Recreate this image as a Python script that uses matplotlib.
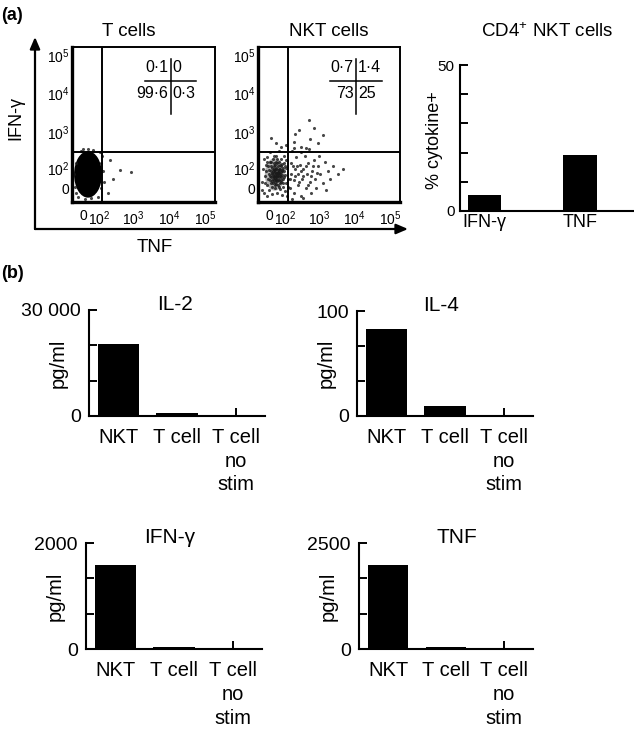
import numpy as np
import matplotlib.pyplot as plt
from matplotlib.patches import Ellipse

plt.rcParams['font.family'] = ['Liberation Sans', 'DejaVu Sans']
plt.rcParams['mathtext.fontset'] = 'custom'
plt.rcParams['mathtext.rm'] = 'Liberation Sans'
plt.rcParams['mathtext.it'] = 'Liberation Sans:italic'
plt.rcParams['mathtext.bf'] = 'Liberation Sans:bold'

W, H = 634, 736

# (a) flow plots, events in display channels (0-1000)
flow_tick_labels = ['0', r'$10^{2}$', r'$10^{3}$', r'$10^{4}$', r'$10^{5}$']
flow_ticks_x = [80, 190, 430, 680, 930]
flow_ticks_y = [90, 220, 450, 700, 950]
gate_x = 210
gate_y = 320

tcell_quadrants = [0.1, 0, 99.6, 0.3]
nkt_quadrants = [0.7, 1.4, 73, 25]

# dense populations: centre x, centre y, width, height
tcell_core = (112, 178, 195, 300)
nkt_core = (118, 178, 140, 210)

tcell_events = [
    (20, 100), (30, 250), (200, 90), (215, 200), (60, 330), (150, 335),
    (210, 300), (40, 30), (180, 30), (225, 130), (110, 340), (15, 180),
    (25, 60), (205, 250), (90, 20), (130, 25), (195, 320), (75, 345),
    (266, 271), (336, 206), (413, 194), (290, 150), (250, 60),
]

nkt_events = [
    (45, 60), (60, 110), (52, 170), (70, 230), (65, 290), (80, 80), (85, 140),
    (90, 200), (95, 260), (88, 320), (100, 50), (105, 120), (110, 170),
    (112, 215), (108, 280), (120, 90), (125, 140), (128, 190), (122, 240),
    (130, 300), (135, 60), (140, 110), (145, 160), (142, 205), (148, 255),
    (150, 330), (155, 85), (160, 130), (158, 180), (162, 230), (165, 280),
    (170, 45), (175, 100), (178, 150), (172, 200), (180, 250), (185, 300),
    (190, 70), (195, 125), (192, 175), (198, 220), (200, 270), (205, 40),
    (208, 150), (210, 95), (115, 160), (132, 170), (138, 185), (118, 205),
    (150, 145), (100, 190), (160, 160), (125, 115), (140, 230), (95, 160),
    (170, 175), (110, 250), (150, 200), (75, 180), (185, 200),
    (120, 175), (135, 160), (128, 150), (112, 185), (145, 175), (130, 210),
    (105, 150), (140, 195), (118, 130), (155, 215), (100, 220), (165, 140),
    (90, 120), (125, 260), (145, 100), (30, 130), (35, 210), (25, 80),
    (40, 280), (60, 40),
    (70, 150), (78, 205), (82, 255), (98, 95), (102, 135), (106, 200),
    (115, 230), (119, 110), (123, 155), (127, 220), (133, 135), (137, 250),
    (141, 145), (146, 215), (152, 170), (156, 120), (161, 195), (167, 245),
    (173, 125), (182, 160), (188, 230), (96, 180), (108, 165), (114, 145),
    (121, 195), (131, 185), (136, 175), (143, 190), (148, 185), (126, 170),
    (110, 205), (92, 230), (86, 170), (154, 240), (166, 205), (176, 220),
    (58, 200), (64, 260), (48, 120), (55, 240), (134, 280), (116, 300),
    (225, 90), (230, 180), (235, 250), (240, 330), (250, 60), (255, 140),
    (260, 210), (270, 290), (280, 110), (285, 180), (295, 240), (300, 40),
    (310, 150), (320, 210), (330, 300), (335, 90), (345, 180), (355, 250),
    (365, 130), (370, 60), (380, 200), (395, 270), (400, 150), (410, 90),
    (420, 230), (440, 180), (455, 120), (470, 260), (490, 200), (510, 150),
    (530, 230), (560, 180), (600, 210), (250, 350), (300, 320), (360, 340),
    (430, 300), (480, 80), (240, 20), (320, 25),
    (228, 150), (245, 230), (262, 170), (275, 230), (290, 130), (305, 200),
    (318, 170), (340, 230), (350, 110), (375, 170), (390, 230), (415, 190),
    (359, 529), (394, 477), (366, 406), (261, 439), (254, 387), (303, 355),
    (338, 348), (92, 413), (127, 381), (162, 355), (458, 432), (289, 465),
    (200, 370), (420, 380),
]

cd4_labels = ['IFN-γ', 'TNF']
cd4_values = [5.5, 19.2]

# (b) cytokines in supernatant, pg/ml
groups = ['NKT', 'T cell', 'T cell\nno\nstim']
il2 = [20300, 800, 0]
il4 = [83, 9.5, 0]
ifng = [1580, 40, 0]
tnf = [1970, 45, 0]


def px_axes(fig, x0, y0, x1, y1):
    return fig.add_axes([x0 / W, 1 - y1 / H, (x1 - x0) / W, (y1 - y0) / H])


def flow_panel(ax, title, title_x, quad, events, core, core_alpha):
    ax.add_patch(Ellipse(core[:2], core[2], core[3], color='black',
                         alpha=core_alpha, lw=0))
    ev = np.array(events)
    ax.scatter(ev[:, 0], ev[:, 1], s=5, color='0.1', alpha=0.8, lw=0)
    ax.axvline(gate_x, color='black', lw=1.4)
    ax.axhline(gate_y, color='black', lw=1.4)
    ax.set_xlim(0, 1000)
    ax.set_ylim(0, 1000)
    ax.set_xticks(flow_ticks_x, flow_tick_labels)
    ax.set_yticks(flow_ticks_y, flow_tick_labels)
    ax.tick_params(length=0, labelsize=10)
    ax.tick_params(axis='x', pad=5)
    ax.tick_params(axis='y', pad=2)
    for s in ax.spines.values():
        s.set_linewidth(1.4)
    ax.spines['left'].set_linewidth(2.4)
    ax.spines['bottom'].set_linewidth(2.4)
    # quadrant percentages
    ax.plot([0.51, 0.87], [0.78, 0.78], transform=ax.transAxes, color='black', lw=1.1)
    ax.plot([0.69, 0.69], [0.57, 0.92], transform=ax.transAxes, color='black', lw=1.1)
    labels = [f'{v:g}'.replace('.', '·') for v in quad]
    kw = dict(transform=ax.transAxes, va='center', fontsize=11.5)
    ax.text(0.675, 0.865, labels[0], ha='right', **kw)
    ax.text(0.705, 0.865, labels[1], ha='left', **kw)
    ax.text(0.675, 0.70, labels[2], ha='right', **kw)
    ax.text(0.705, 0.70, labels[3], ha='left', **kw)
    ax.text(title_x, 1.097, title, transform=ax.transAxes, ha='center',
            va='center', fontsize=13.5)


def cytokine_panel(ax, title, title_x, values, ymax, top_label):
    x = np.arange(len(groups))
    ax.bar(x, values, width=0.7, color='black')
    ax.set_xlim(-0.5, 2.5)
    ax.set_ylim(0, ymax)
    ax.set_yticks(np.linspace(0, ymax, 4), ['0', '', '', top_label])
    ax.set_xticks(x, groups, linespacing=1.3)
    # short upward mark at the unstimulated group
    ax.xaxis.remove_overlapping_locs = False
    ax.set_xticks([x[-1]], minor=True)
    ax.tick_params(axis='y', direction='in', length=6, width=1.4,
                   labelsize=14, pad=6)
    ax.tick_params(axis='x', which='major', length=0, labelsize=14.5, pad=9)
    ax.tick_params(axis='x', which='minor', direction='in', length=6, width=1.4)
    for side in ['top', 'right']:
        ax.spines[side].set_visible(False)
    for side in ['left', 'bottom']:
        ax.spines[side].set_linewidth(1.5)
    ax.text(-0.175, 0.5, 'pg/ml', rotation=90, ha='center', va='center',
            transform=ax.transAxes, fontsize=14.5)
    ax.text(title_x, 1.05, title, ha='center', va='center',
            transform=ax.transAxes, fontsize=15)


fig = plt.figure(figsize=(W / 100, H / 100), dpi=100)

# big L-shaped axis arrows of panel (a)
over = fig.add_axes([0, 0, 1, 1])
over.set_xlim(0, W)
over.set_ylim(H, 0)
over.axis('off')
arrow = dict(arrowstyle='-|>,head_length=0.7,head_width=0.3', color='black', lw=1.6,
             shrinkA=0, shrinkB=0)
over.annotate('', xy=(35, 37), xytext=(35, 229), arrowprops=arrow)
over.annotate('', xy=(408, 229), xytext=(35, 229), arrowprops=arrow)
over.text(16, 118, 'IFN-γ', rotation=90, ha='center', va='center', fontsize=13)
over.text(155, 248, 'TNF', ha='center', va='center', fontsize=13.5)
over.text(1, 15, '(a)', ha='left', va='center', fontsize=13, fontweight='bold')
over.text(1, 273, '(b)', ha='left', va='center', fontsize=13, fontweight='bold')

ax_t = px_axes(fig, 72, 47, 215, 202)
flow_panel(ax_t, 'T cells', 0.40, tcell_quadrants, tcell_events, tcell_core, 1.0)
ax_n = px_axes(fig, 258, 47, 400, 202)
flow_panel(ax_n, 'NKT cells', 0.5, nkt_quadrants, nkt_events, nkt_core, 0.3)

# CD4+ NKT cells bar chart
ax_c = px_axes(fig, 460, 65, 634, 211)
ax_c.bar([0, 1], cd4_values, width=0.35, color='black')
ax_c.set_xlim(-0.26, 1.565)
ax_c.set_ylim(0, 50)
ax_c.set_yticks(np.arange(0, 51, 10), ['0', '', '', '', '', '50'])
ax_c.set_xticks([0, 1], cd4_labels)
ax_c.tick_params(axis='y', direction='in', length=6, width=1.4, labelsize=11, pad=4)
ax_c.tick_params(axis='x', length=0, labelsize=13, pad=2)
for side in ['top', 'right']:
    ax_c.spines[side].set_visible(False)
for side in ['left', 'bottom']:
    ax_c.spines[side].set_linewidth(1.5)
ax_c.text(-0.144, 0.486, '% cytokine+', rotation=90, ha='center', va='center',
          transform=ax_c.transAxes, fontsize=13)
ax_c.text(0.5, 1.226, r'CD4$^{+}$ NKT cells', ha='center', va='center',
          transform=ax_c.transAxes, fontsize=13.5)

cytokine_panel(px_axes(fig, 89, 310, 265, 416), 'IL-2', 0.49, il2, 30000, '30 000')
cytokine_panel(px_axes(fig, 357, 311, 533, 416), 'IL-4', 0.48, il4, 100, '100')
cytokine_panel(px_axes(fig, 86, 543, 262, 649), 'IFN-γ', 0.477, ifng, 2000, '2000')
cytokine_panel(px_axes(fig, 359, 543, 533, 649), 'TNF', 0.56, tnf, 2500, '2500')

fig.savefig('out.png', dpi=100)
